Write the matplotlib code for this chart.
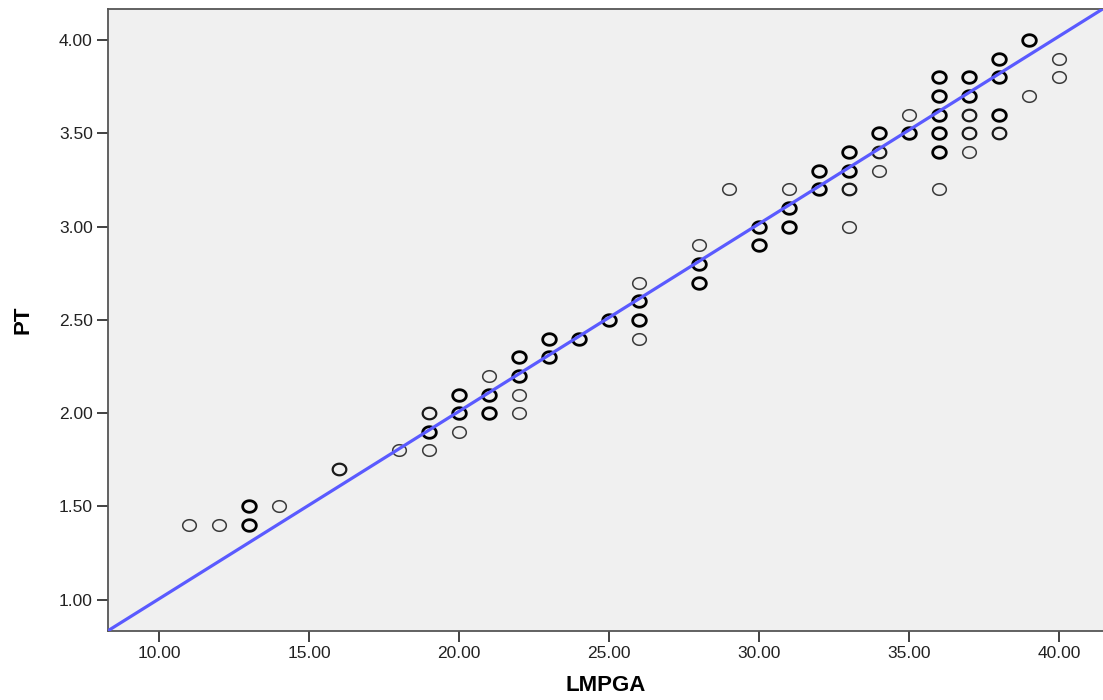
import numpy as np
import matplotlib.pyplot as plt
from matplotlib.path import Path

# LMPGA (x), PT (y), and how many cases sit on the same spot (overplotting)
lmpga = [11, 12, 13, 13, 14, 16, 18,
         19, 19, 19, 20, 20, 20, 21, 21, 21,
         22, 22, 22, 22, 23, 23, 24, 25,
         26, 26, 26, 26, 28, 28, 28, 29, 30, 30,
         31, 31, 31, 32, 32, 33, 33, 33, 33,
         34, 34, 34, 35, 35,
         36, 36, 36, 36, 36, 36,
         37, 37, 37, 37, 37,
         38, 38, 38, 38, 39, 39, 40, 40]
pt = [1.4, 1.4, 1.4, 1.5, 1.5, 1.7, 1.8,
      1.8, 1.9, 2.0, 1.9, 2.0, 2.1, 2.0, 2.1, 2.2,
      2.0, 2.1, 2.2, 2.3, 2.3, 2.4, 2.4, 2.5,
      2.4, 2.5, 2.6, 2.7, 2.7, 2.8, 2.9, 3.2, 2.9, 3.0,
      3.0, 3.1, 3.2, 3.2, 3.3, 3.0, 3.2, 3.3, 3.4,
      3.3, 3.4, 3.5, 3.5, 3.6,
      3.2, 3.4, 3.5, 3.6, 3.7, 3.8,
      3.4, 3.5, 3.6, 3.7, 3.8,
      3.5, 3.6, 3.8, 3.9, 3.7, 4.0, 3.8, 3.9]
count = [1, 1, 3, 3, 1, 2, 1,
         1, 3, 2, 1, 3, 3, 3, 3, 1,
         1, 1, 3, 3, 3, 3, 3, 3,
         1, 3, 3, 1, 3, 3, 1, 1, 3, 3,
         3, 3, 1, 3, 3, 1, 2, 3, 3,
         1, 2, 3, 3, 1,
         1, 3, 3, 3, 3, 3,
         1, 2, 2, 3, 3,
         2, 3, 3, 3, 1, 3, 1, 1]

# fit line (y = a*x + b)
fit_slope = 0.1005
fit_intercept = 0.0

x_ticks = [10, 15, 20, 25, 30, 35, 40]
y_ticks = [1.0, 1.5, 2.0, 2.5, 3.0, 3.5, 4.0]

x = np.array(lmpga, dtype=float)
y = np.array(pt)
n = np.array(count)

# slightly flattened circle, like the reference markers
t = np.linspace(0, 2 * np.pi, 60)
ellipse = Path(np.column_stack([np.cos(t), 0.85 * np.sin(t)]), closed=True)

plt.rcParams['font.family'] = ['Liberation Sans', 'DejaVu Sans']

fig = plt.figure(figsize=(11.03, 7.0), dpi=100)
ax = fig.add_axes([0.098, 0.099, 0.902, 0.888])
ax.set_facecolor('#f0f0f0')

# overplotted points look heavier
styles = {1: ('#3a3a3a', 1.1), 2: ('#1a1a1a', 1.6), 3: ('#000000', 2.0)}
for k, (col, lw) in styles.items():
    m = n == k
    ax.plot(x[m], y[m], linestyle='none', marker=ellipse, markersize=9.8,
            markerfacecolor='none', markeredgecolor=col, markeredgewidth=lw, zorder=3)

xlim = (8.3, 41.47)
xs = np.array(xlim)
ax.plot(xs, fit_slope * xs + fit_intercept, color='#5a5aff', linewidth=2.3, zorder=4)

ax.set_xlim(*xlim)
ax.set_ylim(0.834, 4.166)
ax.set_xticks(x_ticks)
ax.set_xticklabels([f'{v:.2f}' for v in x_ticks])
ax.set_yticks(y_ticks)
ax.set_yticklabels([f'{v:.2f}' for v in y_ticks])

for s in ['left', 'bottom', 'top']:
    ax.spines[s].set_color('#555555')
    ax.spines[s].set_linewidth(1.3)
ax.spines['right'].set_visible(False)

ax.tick_params(axis='both', direction='out', length=8, width=1.3, color='#333333',
               labelsize=12.5, labelcolor='#222222', pad=3)

ax.set_xlabel('LMPGA', fontsize=16, fontweight='bold', labelpad=10)
ax.set_ylabel('PT', fontsize=16, fontweight='bold', labelpad=18)

fig.savefig('out.png', dpi=100)
